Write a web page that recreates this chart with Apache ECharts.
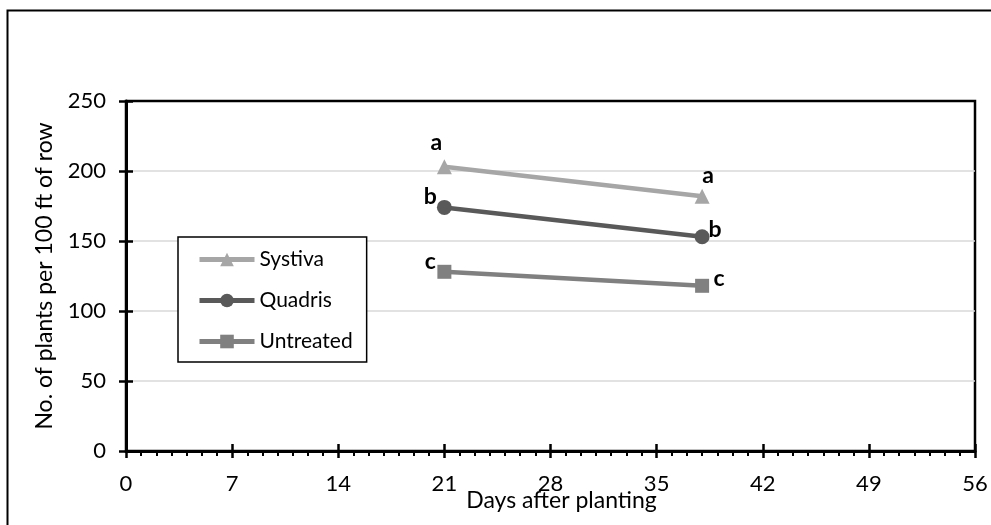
<!DOCTYPE html>
<html>
<head>
<meta charset="utf-8">
<script src="https://cdn.jsdelivr.net/npm/echarts@6/dist/echarts.min.js"></script>
<style>
html,body{margin:0;padding:0;background:#fff;}
#chart{width:991px;height:525px;}
</style>
</head>
<body>
<div id="chart"></div>
<script>
const days = [21, 38];
const systiva = [203, 182];
const quadris = [174, 153];
const untreated = [128, 118];
const systivaLetters = ['a', 'a'];
const quadrisLetters = ['b', 'b'];
const untreatedLetters = ['c', 'c'];
const xTicks = [0, 7, 14, 21, 28, 35, 42, 49, 56];
const yTicks = [0, 50, 100, 150, 200, 250];

const FONT = 'Lato';

function pts(vals, letters, offsets) {
  return days.map((d, i) => ({
    value: [d, vals[i]],
    label: { formatter: letters[i], offset: offsets[i] }
  }));
}

const labelBase = {
  show: true,
  position: 'inside',
  fontFamily: FONT,
  fontWeight: 'bold',
  fontSize: 23,
  color: '#000'
};

const chart = echarts.init(document.getElementById('chart'), null, { renderer: 'canvas' });
const option = {
  backgroundColor: '#fff',
  animation: false,
  graphic: [{
    type: 'rect',
    shape: { x: 7.5, y: 10.5, width: 1100, height: 700 },
    style: { fill: 'none', stroke: '#000', lineWidth: 2 },
    silent: true,
    z: -10
  }],
  grid: {
    left: 126, right: 16, top: 101, bottom: 74,
    show: true, borderColor: '#000', borderWidth: 2.5, backgroundColor: 'transparent'
  },
  legend: {
    orient: 'vertical',
    left: 178, top: 237,
    padding: [12, 14, 10, 19],
    backgroundColor: '#fff',
    borderColor: '#000',
    borderWidth: 1.5,
    itemWidth: 55,
    itemHeight: 17,
    itemGap: 20,
    lineStyle: { width: 5 },
    textStyle: { fontFamily: FONT, fontSize: 21, color: '#000', lineHeight: 20 },
    data: ['Systiva', 'Quadris', 'Untreated']
  },
  xAxis: [{
    type: 'value', min: 0, max: 56, interval: 7,
    name: 'Days after planting', nameLocation: 'middle', nameGap: 38,
    nameMoveOverlap: false,
    nameTextStyle: { fontFamily: FONT, fontSize: 23, color: '#000', padding: [0, 0, 0, 22] },
    axisLine: { show: true, onZero: false, lineStyle: { color: '#000', width: 3 } },
    axisTick: { show: true, length: 7, lineStyle: { color: '#000', width: 2.5 } },
    minorTick: { show: true, splitNumber: 7, length: 5, lineStyle: { color: '#000', width: 2 } },
    axisLabel: { fontFamily: FONT, fontSize: 22, color: '#000', margin: 22,
      formatter: v => xTicks.includes(v) ? String(v) : '' },
    splitLine: { show: false }
  }, {
    type: 'value', min: 0, max: 56, interval: 7, position: 'bottom',
    axisLine: { show: false },
    axisTick: { show: true, inside: true, length: 7, lineStyle: { color: '#000', width: 2.5 } },
    axisLabel: { show: false },
    splitLine: { show: false }
  }],
  yAxis: [{
    type: 'value', min: 0, max: 250, interval: 50,
    name: 'No. of plants per 100 ft of row', nameLocation: 'middle', nameGap: 70,
    nameTextStyle: { fontFamily: FONT, fontSize: 23, color: '#000' },
    axisLine: { show: true, onZero: false, lineStyle: { color: '#000', width: 3 } },
    axisTick: { show: true, length: 7, lineStyle: { color: '#000', width: 2.5 } },
    axisLabel: { fontFamily: FONT, fontSize: 22, color: '#000', margin: 20,
      formatter: v => yTicks.includes(v) ? String(v) : '' },
    splitLine: { show: true, showMaxLine: false, showMinLine: false, lineStyle: { color: '#d9d9d9', width: 1.5 } }
  }, {
    type: 'value', min: 0, max: 250, interval: 50, position: 'left',
    axisLine: { show: false },
    axisTick: { show: true, inside: true, length: 7, lineStyle: { color: '#000', width: 2.5 } },
    axisLabel: { show: false },
    splitLine: { show: false }
  }],
  series: [{
    name: 'Systiva', type: 'line', symbol: 'triangle', symbolSize: 15,
    color: '#a6a6a6', lineStyle: { width: 4.5, color: '#a6a6a6' },
    itemStyle: { color: '#a6a6a6' },
    label: labelBase, z: 3,
    data: pts(systiva, systivaLetters, [[-8, -24], [6, -21]])
  }, {
    name: 'Quadris', type: 'line', symbol: 'circle', symbolSize: 15,
    color: '#595959', lineStyle: { width: 4.5, color: '#595959' },
    itemStyle: { color: '#595959' },
    label: labelBase, z: 3,
    data: pts(quadris, quadrisLetters, [[-14, -11], [13, -7]])
  }, {
    name: 'Untreated', type: 'line', symbol: 'rect', symbolSize: 14,
    color: '#808080', lineStyle: { width: 4.5, color: '#808080' },
    itemStyle: { color: '#808080' },
    label: labelBase, z: 3,
    data: pts(untreated, untreatedLetters, [[-14, -10], [17, -7]])
  }]
};
chart.setOption(option);
</script>
</body>
</html>
